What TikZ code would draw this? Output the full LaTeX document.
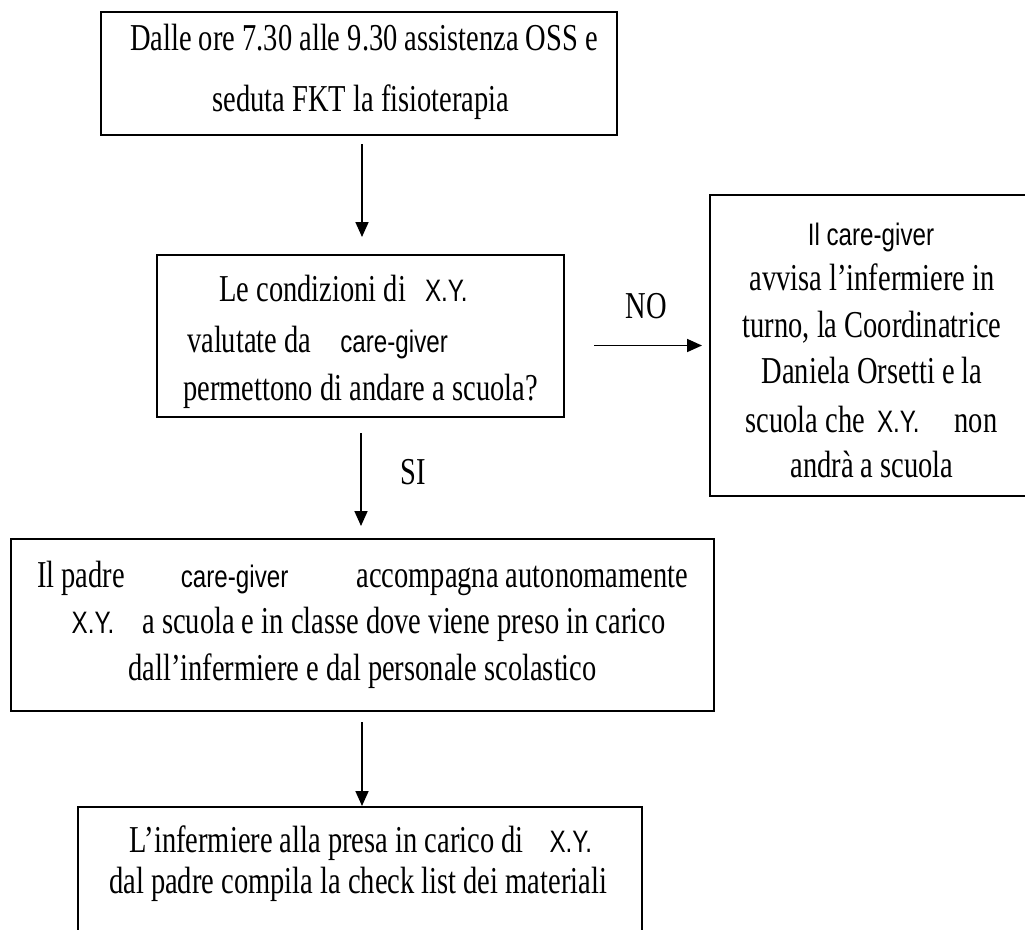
\documentclass[tikz,border=0pt]{standalone}
\usepackage{fontspec}
\setmainfont[FakeStretch=0.75]{Liberation Serif}
\newfontfamily\sansxy[FakeStretch=0.78]{Liberation Sans}
\usetikzlibrary{arrows.meta}
\newcommand{\sa}[1]{{\sansxy\fontsize{31}{36}\selectfont #1}}
\tikzset{
  box/.style={draw, line width=2pt, inner sep=0pt},
  txt/.style={anchor=base, inner sep=0pt, font=\fontsize{38}{46}\selectfont},
  arr/.style={line width=1.7pt, -{Triangle[length=15pt,width=13pt]}},
}
\begin{document}
\begin{tikzpicture}[x=1pt,y=-1pt]
\useasboundingbox (0,0) rectangle (1025,929);
\fill[white] (0,0) rectangle (1025,929);
\clip (0,0) rectangle (1025,929);
% boxes
\node[box, minimum width=516pt, minimum height=123pt] (b1) at (359,73.5) {};
\node[box, minimum width=407pt, minimum height=162pt] (b2) at (360.5,336) {};
\node[box, minimum width=324pt, minimum height=301pt] (bR) at (872,345.5) {};
\node[box, minimum width=703pt, minimum height=172pt] (b3) at (362.5,625) {};
\node[box, minimum width=564pt, minimum height=143pt] (b4) at (360,878.5) {};
% texts
\node[txt] (t1a) at (364,50) {Dalle ore 7.30 alle 9.30 assistenza OSS e};
\node[txt] (t1b) at (361,111) {seduta FKT la fisioterapia};
\node[txt] (t2a) at (343.5,301) {Le condizioni di\hspace{19pt}\sa{X.Y.}};
\node[txt] (t2b) at (317.5,352) {valutate da\hspace{29pt}\sa{care-giver}};
\node[txt] (t2c) at (360.5,400) {permettono di andare a scuola?};
\node[txt] (tra) at (871,245) {\sa{Il care-giver}};
\node[txt] (trb) at (872,290) {avvisa l’infermiere in};
\node[txt] (trc) at (872,337) {turno, la Coordinatrice};
\node[txt] (trd) at (872,383) {Daniela Orsetti e la};
\node[txt] (tre) at (871.5,432) {scuola che\hspace{12pt}\sa{X.Y.}\hspace{35pt}non};
\node[txt] (trf) at (872,477) {andrà a scuola};
\node[txt] (t3a) at (362.5,587) {Il padre\hspace{56pt}\sa{care-giver}\hspace{68pt}accompagna autonomamente};
\node[txt] (t3b) at (368.5,633) {\sa{X.Y.}\hspace{28pt}a scuola e in classe dove viene preso in carico};
\node[txt] (t3c) at (362.5,680) {dall’infermiere e dal personale scolastico};
\node[txt] (t4a) at (361,852) {L’infermiere alla presa in carico di\hspace{26pt}\sa{X.Y.}};
\node[txt] (t4b) at (358,893) {dal padre compila la check list dei materiali};
% labels
\node[txt] (no) at (646,318) {NO};
\node[txt] (si) at (413,484) {SI};
% connectors
\draw[arr, shorten <=8pt, shorten >=17pt] ([xshift=3pt]b1.south) -- ([xshift=1.5pt]b2.north);
\draw[arr, shorten <=15pt, shorten >=12pt] ([xshift=0.5pt]b2.south) -- ([xshift=-1.5pt]b3.north);
\draw[arr, shorten <=29pt, shorten >=7pt] (b2.east |- bR.west) -- (bR.west);
\draw[arr, shorten <=10pt] ([xshift=-0.5pt]b3.south) -- ([xshift=2pt]b4.north);
\end{tikzpicture}
\end{document}
